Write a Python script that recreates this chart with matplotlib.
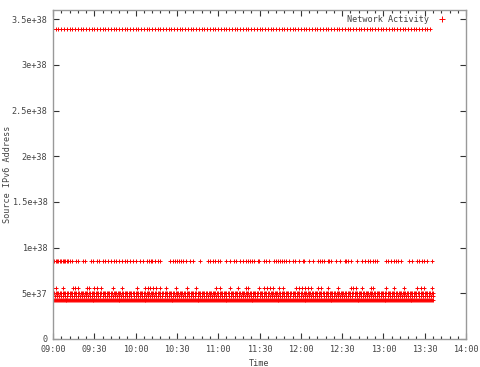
import numpy as np
import matplotlib
matplotlib.use("Agg")
import matplotlib.pyplot as plt
import matplotlib.dates as mdates
from matplotlib.ticker import FixedLocator, FixedFormatter

# capture start; all times below are minutes after this
start = np.datetime64("2013-05-14T09:00")

# source addresses seen during the capture (one row per host)
addr_a = 3.39e38
addr_b = 8.55e37
addr_c = 5.6e37
addr_d = 5.03e37
addr_e = 4.72e37
addr_f = 4.27e37

# sparse hosts: minutes of each packet
times_b = [0, 1, 2, 3, 4, 5, 6, 7, 8, 9, 10, 11, 12, 13.6, 16.7, 18.4, 22, 23.2,
           27.4, 29.3, 31.7, 33.6, 36, 38, 40, 42, 44, 46, 48, 50, 52, 53.5,
           56, 58.3, 60.3, 63.2, 65.1, 68, 70, 71.4, 72, 74, 76, 77.5, 84.7,
           87, 88.5, 90, 91.5, 93, 94.4, 96.8, 99.3, 101.7, 106.5, 112.6, 114,
           116, 118, 119.5, 121, 125.9, 128.3, 131.4, 133, 135.6, 138, 140.4,
           141.4, 143, 144.6, 146.2, 148.6, 149.8, 153.5, 155, 157, 160.7, 162,
           163.5, 165, 166.5, 168, 169.2, 171.6, 174, 176, 178.9, 181.3, 182.5,
           186.1, 188.6, 192.2, 193.8, 195.4, 197, 199.5, 200.7, 201.9, 205.5,
           208.7, 212, 212.6, 214.4, 216.2, 221, 224.6, 226.5, 228.5, 230.5,
           232.5, 234, 235.5, 241.6, 243.4, 245.2, 247.6, 249.2, 250.8, 252.5,
           258.5, 261, 264.6, 266, 267.8, 269.4, 271.8, 275.4]
times_c = [0.2, 2.2, 7, 14.3, 16, 18.4, 24.5, 26.4, 30, 31.7, 34.9, 43.4, 49.9,
           60.8, 66.8, 69.2, 70.2, 72.6, 75, 77.5, 82.3, 89.6, 97.5, 104, 118.6,
           121, 128.3, 134.3, 140.4, 142, 149.8, 153.5, 155.5, 157.5, 159.5,
           164.3, 166.8, 176.5, 178.5, 181, 183, 185, 187.4, 192.2, 194.6,
           199.5, 206.8, 216.2, 218, 219.8, 224.6, 230.7, 232.6, 241.6, 247.6,
           254.9, 264.6, 267, 269.4, 275.4]

# busy hosts: (first, last) minute of continuous traffic and packet spacing
span_a, step_a = (0, 275), 2.0
span_d, step_d = (0, 276), 1.0
span_e, step_e = (0, 276), 1.5
span_f, step_f = (0, 276), 0.7


def to_time(minutes):
    m = np.asarray(minutes, dtype=float)
    return start + (m * 60).astype("timedelta64[s]")


def busy(span, step):
    return np.arange(span[0], span[1] + step / 2, step)


rows = [
    (busy(span_a, step_a), addr_a),
    (times_b, addr_b),
    (times_c, addr_c),
    (busy(span_d, step_d), addr_d),
    (busy(span_e, step_e), addr_e),
    (busy(span_f, step_f), addr_f),
]

xs = np.concatenate([to_time(t) for t, _ in rows])
ys = np.concatenate([np.full(len(t), a) for t, a in rows])

yticks = [0, 5e37, 1e38, 1.5e38, 2e38, 2.5e38, 3e38, 3.5e38]
ylabels = ["0", "5e+37", "1e+38", "1.5e+38", "2e+38", "2.5e+38", "3e+38", "3.5e+38"]

plt.rcParams["font.family"] = ["DejaVu Sans Mono"]
plt.rcParams["font.size"] = 6.1

fig = plt.figure(figsize=(4.8, 3.67), dpi=100)
ax = fig.add_axes([0.1104, 0.0763, 0.8605, 0.8965])

ax.plot(xs, ys, linestyle="none", marker="+", color="#ff0000",
        markersize=2.8, markeredgewidth=0.7, label="Network Activity")

ax.set_xlim(start, start + np.timedelta64(300, "m"))
ax.set_ylim(0, 3.6e38)

ax.xaxis.set_major_locator(mdates.MinuteLocator(byminute=[0, 30]))
ax.xaxis.set_minor_locator(mdates.MinuteLocator(byminute=range(0, 60, 6)))
ax.xaxis.set_major_formatter(mdates.DateFormatter("%H:%M"))
ax.yaxis.set_major_locator(FixedLocator(yticks))
ax.yaxis.set_major_formatter(FixedFormatter(ylabels))

ax.tick_params(which="both", direction="in", top=True, right=True,
               colors="#333333", labelcolor="#444444", width=0.8)
ax.tick_params(which="major", length=4, pad=4)
ax.tick_params(which="minor", length=2)
for s in ax.spines.values():
    s.set_color("#999999")
    s.set_linewidth(1.0)

ax.set_xlabel("Time", color="#444444", labelpad=4)
ax.set_ylabel("Source IPv6 Address", color="#444444", va="center")
ax.yaxis.set_label_coords(-0.11, 0.5)

ax.legend(loc="upper right", bbox_to_anchor=(0.97, 1.0), frameon=False,
          markerfirst=False, handlelength=1.5, borderaxespad=0.2,
          labelcolor="#444444", markerscale=1.3)

fig.savefig("out.png", dpi=100)
